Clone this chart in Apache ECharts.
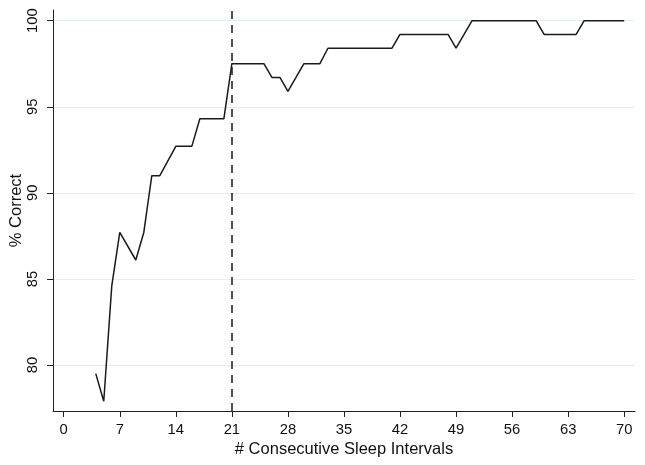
<!DOCTYPE html>
<html>
<head>
<meta charset="utf-8">
<script src="https://cdn.jsdelivr.net/npm/echarts@6/dist/echarts.min.js"></script>
<style>html,body{margin:0;padding:0;background:#fff}#c{width:645px;height:465px}</style>
</head>
<body>
<div id="c"></div>
<script>
// Data: vertices
const intervals = [4,5,6,7,9,10,11,12,14,16,17,20,21,25,26,27,28,30,32,33,41,42,48,49,51,59,60,64,65,70];
const pctCorrect = [79.5,77.9,84.6,87.7,86.1,87.7,91.0,91.0,92.7,92.7,94.3,94.3,97.5,97.5,96.7,96.7,95.9,97.5,97.5,98.4,98.4,99.2,99.2,98.4,100,100,99.2,99.2,100,100];
const xTicks = [0,7,14,21,28,35,42,49,56,63,70];
const yTicks = [80,85,90,95,100];
const cutoff = 21;
const xLabel = '# Consecutive Sleep Intervals';
const yLabel = '% Correct';

const font = '"Liberation Sans", Arial, Helvetica, sans-serif';
const chart = echarts.init(document.getElementById('c'), null, {renderer: 'canvas'});
chart.setOption({
  animation: false,
  backgroundColor: '#ffffff',
  grid: {left: 53, right: 10, top: 10, bottom: 54, containLabel: false, outerBoundsMode: 'none'},
  xAxis: {
    type: 'value', min: -1.34, max: 71.35,
    name: xLabel, nameLocation: 'middle', nameGap: 30, nameMoveOverlap: false,
    nameTextStyle: {fontFamily: font, fontSize: 16.5, color: '#111'},
    axisLine: {onZero: false, lineStyle: {color: '#222', width: 1}},
    axisTick: {show: true, length: 6, customValues: xTicks, lineStyle: {color: '#222'}},
    axisLabel: {customValues: xTicks, margin: 11, fontFamily: font, fontSize: 14.8, color: '#111'},
    splitLine: {show: false}
  },
  yAxis: {
    type: 'value', min: 77.33, max: 100.62,
    name: yLabel, nameLocation: 'middle', nameGap: 28, nameMoveOverlap: false,
    nameTextStyle: {fontFamily: font, fontSize: 16.5, color: '#111'},
    axisLine: {show: true, onZero: false, lineStyle: {color: '#222', width: 1}},
    axisTick: {show: true, length: 6, customValues: yTicks, lineStyle: {color: '#222'}},
    axisLabel: {customValues: yTicks, rotate: 90, margin: 13, fontFamily: font, fontSize: 14.8, color: '#111'},
    splitLine: {show: true, lineStyle: {color: '#e3eef0', width: 1}}
  },
  series: [{
    type: 'line',
    data: intervals.map((x, i) => [x, pctCorrect[i]]),
    showSymbol: false,
    lineStyle: {color: '#1a1a1a', width: 1.5},
    markLine: {
      silent: true, symbol: 'none', label: {show: false},
      lineStyle: {color: '#1a1a1a', type: [8, 6], width: 1.5},
      data: [{xAxis: cutoff}]
    }
  }]
});
</script>
</body>
</html>
